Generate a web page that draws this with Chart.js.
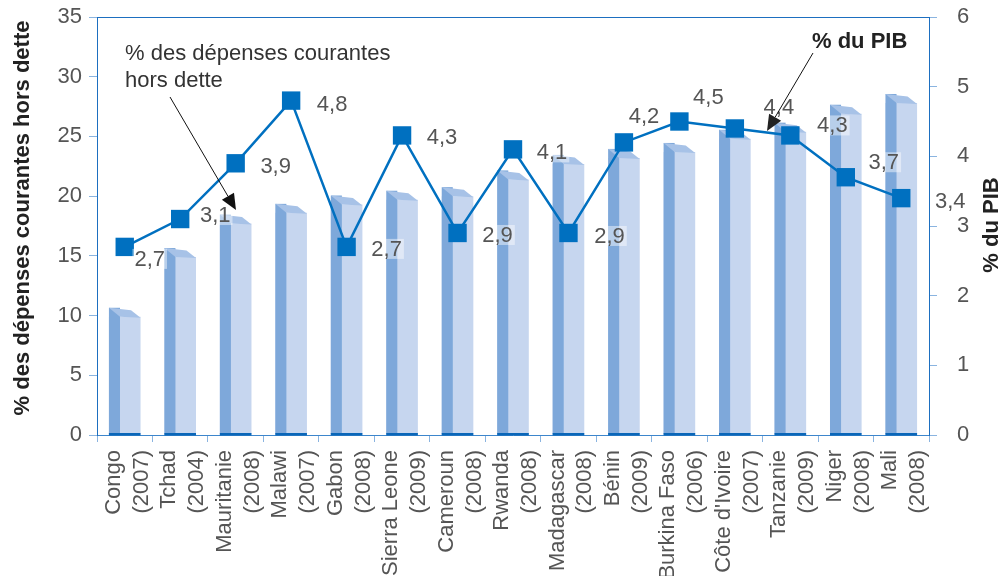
<!DOCTYPE html>
<html>
<head>
<meta charset="utf-8">
<script src="https://cdn.jsdelivr.net/npm/chart.js@4.4.0/dist/chart.umd.min.js"></script>
<style>
	body { margin: 0; background: #fff; }
	canvas { display: block; }
</style>
</head>
<body>
<canvas id="myChart" width="1004" height="576"></canvas>
<script>
let countries = ["Congo", "Tchad", "Mauritanie", "Malawi", "Gabon", "Sierra Leone", "Cameroun", "Rwanda", "Madagascar", "Bénin", "Burkina Faso", "Côte d'Ivoire", "Tanzanie", "Niger", "Mali"];
let years = ["(2007)", "(2004)", "(2008)", "(2007)", "(2008)", "(2009)", "(2008)", "(2008)", "(2008)", "(2009)", "(2006)", "(2007)", "(2009)", "(2008)", "(2008)"];

// % des dépenses courantes hors dette (bars, left axis)
let depenses = [9.9, 14.9, 17.7, 18.6, 19.3, 19.7, 20.0, 21.4, 22.7, 23.2, 23.7, 24.8, 25.4, 26.9, 27.8];
// % du PIB (line, right axis)
let pib = [2.7, 3.1, 3.9, 4.8, 2.7, 4.3, 2.9, 4.1, 2.9, 4.2, 4.5, 4.4, 4.3, 3.7, 3.4];

let labels = countries.map((c, i) => [c, years[i]]);

let font = "Liberation Sans";

// where each value label sits relative to its marker
let labelOffsets = [
	[25, 12], [35, -4], [40, 3], [41, 3], [40, 2], [40, 2], [40, 2], [39, 3],
	[41, 3], [20, -26], [29, -25], [44, -22], [42, -10], [38, -15], [49, 3],
];

// draws the side face and the bevel on top of each bar
let bars3d = {
	id: "bars3d",
	afterDatasetDraw(chart, args) {
		if (args.index !== 0) return;
		let ctx = chart.ctx;
		ctx.save();
		args.meta.data.forEach((bar) => {
			let x0 = bar.x - bar.width / 2;
			let x1 = bar.x + bar.width / 2;
			let side = bar.width * 0.35;
			let y = bar.y;
			let b = bar.base;
			ctx.fillStyle = "#7ea8da";
			ctx.fillRect(x0, y - 9, side, b - y + 9);
			ctx.fillStyle = "#a7c2e7";
			ctx.beginPath();
			ctx.moveTo(x0, y - 9);
			ctx.lineTo(x0 + bar.width * 0.7, y - 6.5);
			ctx.lineTo(x1, y + 1);
			ctx.lineTo(x0 + side, y);
			ctx.closePath();
			ctx.fill();
			ctx.fillStyle = "#0a66b8";
			ctx.fillRect(x0, b - 1.5, bar.width, 2.5);
		});
		ctx.restore();
	},
};

function arrow(ctx, x1, y1, x2, y2) {
	let a = Math.atan2(y2 - y1, x2 - x1);
	let len = 16;
	let w = 7;
	let bx = x2 - len * Math.cos(a);
	let by = y2 - len * Math.sin(a);
	ctx.beginPath();
	ctx.moveTo(x1, y1);
	ctx.lineTo(bx, by);
	ctx.stroke();
	ctx.beginPath();
	ctx.moveTo(x2, y2);
	ctx.lineTo(bx + w * Math.sin(a), by - w * Math.cos(a));
	ctx.lineTo(bx - w * Math.sin(a), by + w * Math.cos(a));
	ctx.closePath();
	ctx.fill();
}

function vtext(ctx, txt, x, y) {
	ctx.save();
	ctx.translate(x, y);
	ctx.rotate(-Math.PI / 2);
	ctx.textAlign = "center";
	ctx.textBaseline = "middle";
	ctx.fillText(txt, 0, 0);
	ctx.restore();
}

let extras = {
	id: "extras",
	afterDatasetsDraw(chart) {
		let ctx = chart.ctx;
		let area = chart.chartArea;
		ctx.save();

		// top border of the plot
		ctx.strokeStyle = "#1d6fc0";
		ctx.lineWidth = 1;
		ctx.beginPath();
		ctx.moveTo(area.left, area.top + 0.5);
		ctx.lineTo(area.right, area.top + 0.5);
		ctx.stroke();

		// value labels of the line
		let meta = chart.getDatasetMeta(1);
		ctx.font = "22px '" + font + "'";
		ctx.textAlign = "center";
		ctx.textBaseline = "middle";
		meta.data.forEach((pt, i) => {
			let txt = pib[i].toFixed(1).replace(".", ",");
			let x = pt.x + labelOffsets[i][0];
			let y = pt.y + labelOffsets[i][1];
			let w = ctx.measureText(txt).width;
			ctx.fillStyle = "rgba(255,255,255,0.45)";
			ctx.fillRect(x - w / 2 - 2, y - 10, w + 4, 20);
			ctx.fillStyle = "#555";
			ctx.fillText(txt, x, y + 1);
		});

		// annotations
		ctx.fillStyle = "#333";
		ctx.textAlign = "left";
		ctx.textBaseline = "alphabetic";
		ctx.fillText("% des dépenses courantes", 125, 60);
		ctx.fillText("hors dette", 125, 87);
		ctx.strokeStyle = "#111";
		ctx.fillStyle = "#111";
		ctx.lineWidth = 1;
		arrow(ctx, 170, 97, 236, 210);

		ctx.font = "bold 22px '" + font + "'";
		ctx.fillStyle = "#222";
		ctx.fillText("% du PIB", 812, 48);
		arrow(ctx, 813, 53, 767, 131);

		// axis titles
		vtext(ctx, "% des dépenses courantes hors dette", 23, 218);
		vtext(ctx, "% du PIB", 992, 225);
		ctx.restore();
	},
};

let ctx = document.getElementById("myChart").getContext("2d");
let chart = new Chart(ctx, {
	type: "bar",
	data: {
		labels: labels,
		datasets: [
			{
				label: "% des dépenses courantes hors dette",
				data: depenses,
				yAxisID: "y",
				backgroundColor: "#c6d6ef",
				borderWidth: 0,
				categoryPercentage: 1,
				barPercentage: 0.57,
				order: 2,
			},
			{
				type: "line",
				label: "% du PIB",
				data: pib,
				yAxisID: "y1",
				borderColor: "#0070c0",
				borderWidth: 2.5,
				pointStyle: "rect",
				pointRadius: 13,
				pointBorderWidth: 0,
				pointBackgroundColor: "#0070c0",
				tension: 0,
				clip: false,
				order: 1,
			},
		],
	},
	options: {
		responsive: false,
		animation: false,
		layout: { padding: { top: 17, left: 0, right: 0, bottom: 0 } },
		plugins: {
			legend: { display: false },
			tooltip: { enabled: false },
		},
		scales: {
			x: {
				offset: true,
				grid: { offset: true, drawOnChartArea: false, tickLength: 7, color: "#8ab4e0" },
				border: { color: "#3d86cc" },
				ticks: {
					autoSkip: false,
					maxRotation: 90,
					minRotation: 90,
					padding: 8,
					labelOffset: -11,
					color: "#555",
					font: { family: font, size: 22, lineHeight: 1.27 },
				},
				afterFit: (s) => { s.height = 141; },
			},
			y: {
				position: "left",
				min: 0,
				max: 35,
				ticks: { stepSize: 5, padding: 7, color: "#555", font: { family: font, size: 22 } },
				grid: { drawOnChartArea: false, tickLength: 8, color: "#8ab4e0" },
				border: { color: "#1d6fc0" },
				afterFit: (s) => { s.width = 97; s.paddingTop = 0; s.paddingBottom = 0; },
			},
			y1: {
				position: "right",
				min: 0,
				max: 6,
				ticks: { stepSize: 1, padding: 20, color: "#555", font: { family: font, size: 22 } },
				grid: { drawOnChartArea: false, tickLength: 8, color: "#8ab4e0" },
				border: { color: "#1d6fc0" },
				afterFit: (s) => { s.width = 75; s.paddingTop = 0; s.paddingBottom = 0; },
			},
		},
	},
	plugins: [bars3d, extras],
});
</script>
</body>
</html>
